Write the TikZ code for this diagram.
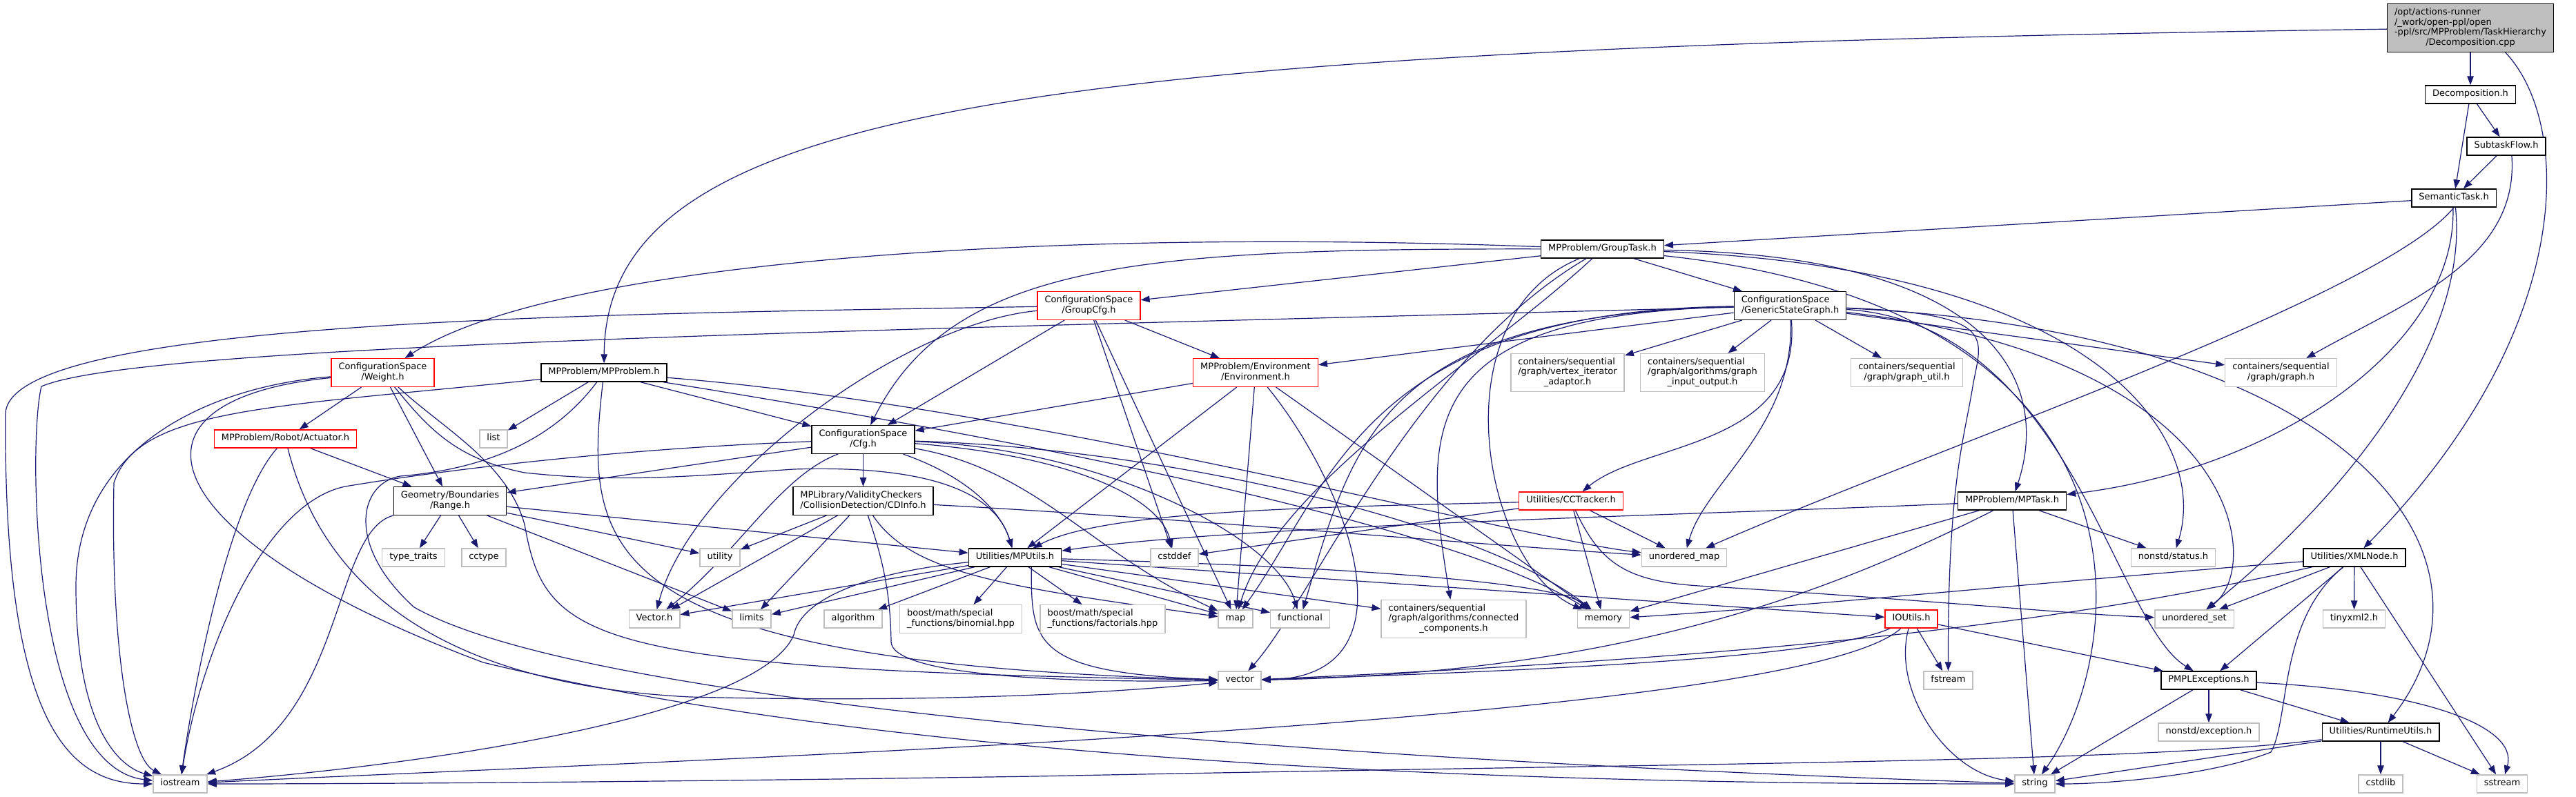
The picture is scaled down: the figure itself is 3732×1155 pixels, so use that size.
\documentclass[tikz,border=0pt]{standalone}
\usepackage{fontspec}
\setmainfont{DejaVu Sans}
\usetikzlibrary{arrows.meta}
\definecolor{mblue}{RGB}{25,25,112}
\definecolor{gry}{RGB}{191,191,191}
\definecolor{rd}{RGB}{255,0,0}
\pgfdeclarelayer{edges}
\pgfsetlayers{edges,main}
\newcommand{\Lone}[1]{\begin{tabular}{@{}c@{}}#1\end{tabular}}
\newcommand{\Lmul}[2]{\begin{tabular}{@{}l@{}}#1\\\multicolumn{1}{@{}c@{}}{#2}\end{tabular}}
\begin{document}
\begin{tikzpicture}[x=1pt,y=-1pt,
  nbase/.style={rectangle, line width=1.4pt, fill=white, inner xsep=10.5pt, inner ysep=5.75pt, font=\fontsize{13}{14.5}\selectfont},
  nb/.style={nbase, draw=black},
  ng/.style={nbase, draw=gry},
  nr/.style={nbase, draw=rd},
  ntop/.style={nbase, draw=black, fill=gry},
  conn/.style={draw=mblue, line width=1.2pt, -{Triangle[length=13pt,width=9.5pt]}}]
\useasboundingbox (0,0) rectangle (3732,1155);
% nodes
\node[ntop] (dcpp) at (3579,40.5) {\Lmul{/opt/actions-runner\\/\_work/open-ppl/open\\-ppl/src/MPProblem/TaskHierarchy}{/Decomposition.cpp}};
\node[nb] (dech) at (3579,137) {\Lone{Decomposition.h}};
\node[nb] (subf) at (3631,212) {\Lone{SubtaskFlow.h}};
\node[nb] (semt) at (3555,287) {\Lone{SemanticTask.h}};
\node[nb] (gtask) at (2321.5,361) {\Lone{MPProblem/GroupTask.h}};
\node[nr] (gcfg) at (1577.5,443) {\Lmul{ConfigurationSpace}{/GroupCfg.h}};
\node[nb] (gsg) at (2593.5,443) {\Lmul{ConfigurationSpace}{/GenericStateGraph.h}};
\node[nr] (weight) at (554.5,540) {\Lmul{ConfigurationSpace}{/Weight.h}};
\node[nb] (mpprob) at (875,540) {\Lone{MPProblem/MPProblem.h}};
\node[nr] (env) at (1819,540) {\Lmul{MPProblem/Environment}{/Environment.h}};
\node[ng] (via) at (2271,540) {\Lmul{containers/sequential\\/graph/vertex\_iterator}{\_adaptor.h}};
\node[ng] (gio) at (2466.5,540) {\Lmul{containers/sequential\\/graph/algorithms/graph}{\_input\_output.h}};
\node[ng] (gutil) at (2762.5,540) {\Lmul{containers/sequential}{/graph/graph\_util.h}};
\node[ng] (graph) at (3304.5,540) {\Lmul{containers/sequential}{/graph/graph.h}};
\node[nr] (actu) at (413.5,636) {\Lone{MPProblem/Robot/Actuator.h}};
\node[ng] (list) at (715,636) {\Lone{list}};
\node[nb] (cfg) at (1250.5,637) {\Lmul{ConfigurationSpace}{/Cfg.h}};
\node[nr] (cct) at (2276,726) {\Lone{Utilities/CCTracker.h}};
\node[nb] (mptask) at (2915,726) {\Lone{MPProblem/MPTask.h}};
\node[nb] (range) at (652,726) {\Lmul{Geometry/Boundaries}{/Range.h}};
\node[nb] (cdinfo) at (1250.5,726) {\Lmul{MPLibrary/ValidityCheckers}{/CollisionDetection/CDInfo.h}};
\node[ng] (umap) at (2440,808) {\Lone{unordered\_map}};
\node[ng] (status) at (3148.5,808) {\Lone{nonstd/status.h}};
\node[nb] (xml) at (3411,808) {\Lone{Utilities/XMLNode.h}};
\node[nb] (mputils) at (1470.5,808) {\Lone{Utilities/MPUtils.h}};
\node[ng] (cstddef) at (1701.5,808) {\Lone{cstddef}};
\node[ng] (utility) at (1043,808) {\Lone{utility}};
\node[ng] (typet) at (599,808) {\Lone{type\_traits}};
\node[ng] (cctype) at (701,808) {\Lone{cctype}};
\node[ng] (vech) at (948,897) {\Lone{Vector.h}};
\node[ng] (limits) at (1089,897) {\Lone{limits}};
\node[ng] (algo) at (1236,897) {\Lone{algorithm}};
\node[ng] (binom) at (1392,897) {\Lmul{boost/math/special}{\_functions/binomial.hpp}};
\node[ng] (fact) at (1597.5,897) {\Lmul{boost/math/special}{\_functions/factorials.hpp}};
\node[ng] (map) at (1790,897) {\Lone{map}};
\node[ng] (func) at (1883.5,897) {\Lone{functional}};
\node[ng] (cc) at (2106,897) {\Lmul{containers/sequential\\/graph/algorithms/connected}{\_components.h}};
\node[ng] (memory) at (2323,897) {\Lone{memory}};
\node[nr] (ioutils) at (2769,897) {\Lone{IOUtils.h}};
\node[ng] (uset) at (3179,897) {\Lone{unordered\_set}};
\node[ng] (tinyxml) at (3410.5,897) {\Lone{tinyxml2.h}};
\node[ng] (vector) at (1796,986) {\Lone{vector}};
\node[ng] (fstream) at (2822.5,986) {\Lone{fstream}};
\node[nb] (pmpl) at (3200,986) {\Lone{PMPLExceptions.h}};
\node[ng] (nexc) at (3200,1061) {\Lone{nonstd/exception.h}};
\node[nb] (runtime) at (3449,1061) {\Lone{Utilities/RuntimeUtils.h}};
\node[ng] (iostream) at (261,1136) {\Lone{iostream}};
\node[ng] (string) at (2948,1136) {\Lone{string}};
\node[ng] (cstdlib) at (3449,1136) {\Lone{cstdlib}};
\node[ng] (sstream) at (3625,1136) {\Lone{sstream}};
\begin{pgfonlayer}{edges}
\fill[white] (0,0) rectangle (3732,1155);
% Decomposition.cpp
\draw[conn] (dcpp) -- (dech);
\draw[conn] (dcpp) .. controls (1500,70) and (878,150) .. (mpprob);
\draw[conn] (dcpp.-35) .. controls (3728,180) and (3732,480) .. (xml);
\draw[conn] (dech) -- (semt);
\draw[conn] (dech) -- (subf);
\draw[conn] (subf) -- (semt);
\draw[conn] (subf.-60) .. controls (3650,380) and (3480,440) .. (graph);
% SemanticTask
\draw[conn] (semt) -- (gtask);
\draw[conn] (semt.-95) .. controls (3560,500) and (3300,680) .. (mptask);
\draw[conn] (semt.-90) .. controls (3450,430) and (2800,650) .. (umap);
\draw[conn] (semt.-80) .. controls (3580,520) and (3350,760) .. (uset);
% GroupTask
\draw[conn] (gtask) -- (gsg);
\draw[conn] (gtask) -- (gcfg);
\draw[conn] (gtask) .. controls (1500,330) and (800,380) .. (weight);
\draw[conn] (gtask) .. controls (1650,360) and (1380,380) .. (cfg);
\draw[conn] (gtask) .. controls (2900,370) and (2970,560) .. (mptask);
\draw[conn] (gtask) .. controls (3050,390) and (3200,640) .. (status);
\draw[conn] (gtask) .. controls (2150,520) and (1850,700) .. (map);
\draw[conn] (gtask) .. controls (2080,460) and (2150,820) .. (memory);
\draw[conn] (gtask) .. controls (3150,450) and (3080,950) .. (string);
\draw[conn] (gtask) .. controls (2050,520) and (1900,870) .. (vector);
% GenericStateGraph
\draw[conn] (gsg) -- (graph);
\draw[conn] (gsg) -- (gutil);
\draw[conn] (gsg) -- (gio);
\draw[conn] (gsg) -- (via);
\draw[conn] (gsg) -- (env);
\draw[conn] (gsg.-88) .. controls (2600,620) and (2470,700) .. (umap);
\draw[conn] (gsg.-85) .. controls (2610,650) and (2380,640) .. (cct);
\draw[conn] (gsg) .. controls (2050,455) and (2060,620) .. (cc);
\draw[conn] (gsg) .. controls (2000,455) and (1960,640) .. (func);
\draw[conn] (gsg) .. controls (1980,450) and (1930,700) .. (map);
\draw[conn] (gsg) .. controls (2900,455) and (2870,490) .. (2858,560) .. controls (2845,640) and (2822,700) .. (fstream);
\draw[conn] (gsg) .. controls (3000,470) and (3060,900) .. (pmpl);
\draw[conn] (gsg) .. controls (3400,480) and (3650,800) .. (runtime);
\draw[conn] (gsg) .. controls (3250,520) and (3280,820) .. (uset);
\draw[conn] (gsg) .. controls (1200,480) and (200,500) .. (60,560) .. controls (40,640) and (45,1110) .. (iostream);
% GroupCfg
\draw[conn] (gcfg) -- (cfg);
\draw[conn] (gcfg) -- (env);
\draw[conn] (gcfg) -- (cstddef);
\draw[conn] (gcfg) -- (map);
\draw[conn] (gcfg) .. controls (1300,470) and (1000,700) .. (vech);
\draw[conn] (gcfg) .. controls (900,455) and (10,460) .. (8,600) .. controls (5,1050) and (100,1136) .. (iostream);
% Weight
\draw[conn] (weight) -- (actu);
\draw[conn] (weight) -- (range);
\draw[conn] (weight) .. controls (300,560) and (110,650) .. (110,850) .. controls (110,1050) and (170,1110) .. (iostream);
\draw[conn] (weight) .. controls (150,580) and (220,780) .. (700,960) .. controls (1400,1130) and (2500,1136) .. (string);
\draw[conn] (weight) .. controls (640,620) and (735,670) .. (760,760) .. controls (790,930) and (850,970) .. (vector);
\draw[conn] (weight) .. controls (620,620) and (660,665) .. (760,685) .. controls (900,700) and (1000,690) .. (1150,680) .. controls (1400,672) and (1450,740) .. (mputils);
% MPProblem
\draw[conn] (mpprob) -- (list);
\draw[conn] (mpprob) -- (cfg);
\draw[conn] (mpprob) .. controls (400,590) and (200,590) .. (165,700) .. controls (160,950) and (190,1100) .. (iostream);
\draw[conn] (mpprob) .. controls (845,800) and (860,960) .. (vector);
\draw[conn] (mpprob) .. controls (800,640) and (700,680) .. (580,690) .. controls (520,700) and (500,790) .. (600,880) .. controls (900,1050) and (2300,1115) .. (string);
\draw[conn] (mpprob) .. controls (1500,590) and (2200,780) .. (umap);
\draw[conn] (mpprob) .. controls (1500,640) and (2100,760) .. (memory);
% Actuator
\draw[conn] (actu) -- (range);
\draw[conn] (actu) .. controls (330,730) and (280,1000) .. (iostream);
\draw[conn] (actu) .. controls (460,820) and (600,990) .. (1000,1010) .. controls (1400,1020) and (1650,1000) .. (vector);
% Range
\draw[conn] (range) -- (typet);
\draw[conn] (range) -- (cctype);
\draw[conn] (range) -- (utility);
\draw[conn] (range) -- (limits);
\draw[conn] (range) -- (mputils);
\draw[conn] (range) .. controls (480,770) and (500,1050) .. (iostream);
% Cfg
\draw[conn] (cfg) -- (range);
\draw[conn] (cfg) -- (cdinfo);
\draw[conn] (cfg.-20) .. controls (1400,690) and (1450,740) .. (mputils);
\draw[conn] (cfg.-150) .. controls (1130,690) and (1070,800) .. (vech);
\draw[conn] (cfg) .. controls (900,650) and (650,680) .. (500,705) .. controls (380,730) and (290,950) .. (iostream);
\draw[conn] (cfg) .. controls (1550,660) and (1680,720) .. (cstddef);
\draw[conn] (cfg) .. controls (1500,680) and (1580,800) .. (map);
\draw[conn] (cfg) .. controls (1700,650) and (2150,760) .. (memory);
\draw[conn] (cfg) .. controls (1600,650) and (1850,780) .. (func);
% CDInfo
\draw[conn] (cdinfo) -- (vech);
\draw[conn] (cdinfo) -- (limits);
\draw[conn] (cdinfo) -- (utility);
\draw[conn] (cdinfo) .. controls (1275,800) and (1290,850) .. (1291,930) .. controls (1292,975) and (1500,990) .. (vector);
\draw[conn] (cdinfo) .. controls (1700,750) and (2150,790) .. (umap);
\draw[conn] (cdinfo) .. controls (1320,830) and (1450,850) .. (map);
% Environment
\draw[conn] (env) -- (cfg);
\draw[conn] (env) -- (mputils);
\draw[conn] (env) -- (map);
\draw[conn] (env) -- (memory);
\draw[conn] (env) .. controls (1950,700) and (2060,980) .. (vector);
% CCTracker
\draw[conn] (cct) -- (umap);
\draw[conn] (cct) -- (memory);
\draw[conn] (cct) -- (cstddef);
\draw[conn] (cct) .. controls (2320,820) and (2360,845) .. (2480,850) .. controls (2800,870) and (3000,890) .. (uset);
\draw[conn] (cct) .. controls (1900,735) and (1600,740) .. (mputils);
% MPTask
\draw[conn] (mptask) -- (status);
\draw[conn] (mptask) -- (memory);
\draw[conn] (mptask) -- (string);
\draw[conn] (mptask) .. controls (2650,860) and (2350,975) .. (vector);
\draw[conn] (mptask) .. controls (2500,745) and (1800,760) .. (mputils);
% XMLNode
\draw[conn] (xml) .. controls (3000,840) and (2600,880) .. (memory);
\draw[conn] (xml) .. controls (3000,900) and (2600,950) .. (vector);
\draw[conn] (xml) -- (uset);
\draw[conn] (xml) -- (pmpl);
\draw[conn] (xml) -- (tinyxml);
\draw[conn] (xml) -- (sstream);
\draw[conn] (xml) .. controls (3300,900) and (3318,1040) .. (3290,1090) .. controls (3200,1125) and (3050,1136) .. (string);
% IOUtils
\draw[conn] (ioutils) -- (fstream);
\draw[conn] (ioutils) .. controls (2740,1000) and (2820,1120) .. (string);
\draw[conn] (ioutils) -- (pmpl);
\draw[conn] (ioutils) .. controls (2650,950) and (2300,970) .. (vector);
\draw[conn] (ioutils) .. controls (2600,1050) and (1000,1100) .. (iostream);
% PMPLExceptions
\draw[conn] (pmpl) -- (nexc);
\draw[conn] (pmpl) -- (string);
\draw[conn] (pmpl) -- (runtime);
\draw[conn] (pmpl) .. controls (3500,1000) and (3650,1050) .. (sstream);
% RuntimeUtils
\draw[conn] (runtime) -- (cstdlib);
\draw[conn] (runtime) -- (sstream);
\draw[conn] (runtime) -- (string);
\draw[conn] (runtime) .. controls (3100,1105) and (2500,1105) .. (1500,1125) .. controls (900,1134) and (500,1136) .. (iostream);
% MPUtils
\draw[conn] (mputils) -- (vech);
\draw[conn] (mputils) -- (limits);
\draw[conn] (mputils) -- (algo);
\draw[conn] (mputils) -- (binom);
\draw[conn] (mputils) -- (fact);
\draw[conn] (mputils) -- (map);
\draw[conn] (mputils) -- (func);
\draw[conn] (mputils) -- (cc);
\draw[conn] (mputils) .. controls (1900,820) and (2250,840) .. (memory);
\draw[conn] (mputils) -- (ioutils);
\draw[conn] (mputils.-30) .. controls (1494,930) and (1494,975) .. (vector);
\draw[conn] (mputils) .. controls (1250,830) and (1160,870) .. (1150,920) .. controls (1100,1040) and (600,1110) .. (iostream);
\end{pgfonlayer}
\end{tikzpicture}
\end{document}
